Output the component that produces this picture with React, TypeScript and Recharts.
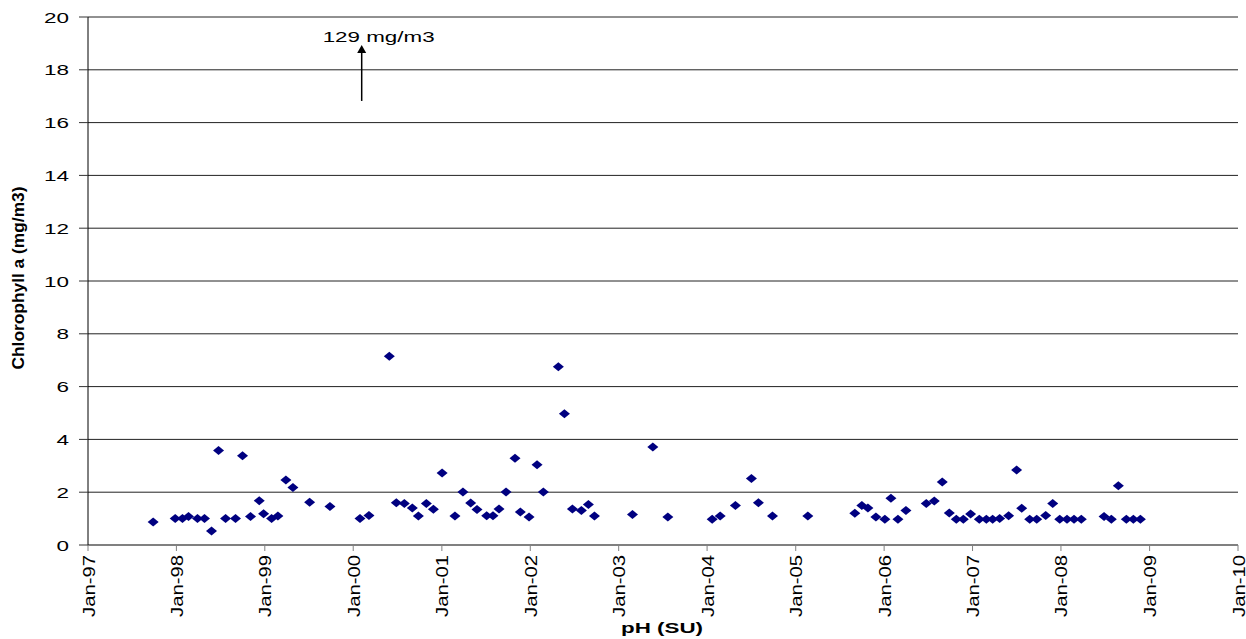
import {
  CartesianGrid,
  Label,
  ReferenceDot,
  ReferenceLine,
  Scatter,
  ScatterChart,
  XAxis,
  YAxis,
} from "recharts";

// 샘플 날짜 / 클로로필 a 농도 (mg/m3)
const sampleDates = [
  "1997-09-27", "1997-12-27", "1998-01-26", "1998-02-20", "1998-03-29", "1998-04-27",
  "1998-05-26", "1998-06-24", "1998-07-23", "1998-09-02", "1998-10-01", "1998-11-03",
  "1998-12-09", "1998-12-27", "1999-01-29", "1999-02-24", "1999-03-29", "1999-04-27",
  "1999-07-05", "1999-09-27", "2000-01-29", "2000-03-06", "2000-05-29", "2000-06-27",
  "2000-07-30", "2000-09-01", "2000-09-26", "2000-10-29", "2000-11-27", "2001-01-02",
  "2001-02-24", "2001-03-29", "2001-04-30", "2001-05-26", "2001-07-05", "2001-07-31",
  "2001-08-25", "2001-09-23", "2001-10-30", "2001-11-21", "2001-12-27", "2002-01-29",
  "2002-02-24", "2002-04-27", "2002-05-22", "2002-06-24", "2002-07-31", "2002-08-29",
  "2002-09-23", "2003-02-27", "2003-05-22", "2003-07-23", "2004-01-22", "2004-02-24",
  "2004-04-27", "2004-07-02", "2004-07-31", "2004-09-27", "2005-02-20", "2005-09-02",
  "2005-10-01", "2005-10-26", "2005-11-28", "2006-01-04", "2006-01-29", "2006-02-27",
  "2006-04-01", "2006-06-24", "2006-07-27", "2006-08-29", "2006-09-27", "2006-10-26",
  "2006-11-24", "2006-12-24", "2007-01-29", "2007-02-27", "2007-03-25", "2007-04-23",
  "2007-05-30", "2007-07-02", "2007-07-23", "2007-08-25", "2007-09-23", "2007-10-30",
  "2007-11-28", "2007-12-27", "2008-01-26", "2008-02-24", "2008-03-25", "2008-06-27",
  "2008-07-27", "2008-08-25", "2008-09-27", "2008-10-26", "2008-11-24",
];

const chlorophyll = [
  0.87, 1.0, 1.0, 1.08, 1.0, 1.0,
  0.53, 3.58, 1.0, 1.0, 3.38, 1.08,
  1.68, 1.18, 1.0, 1.1, 2.46, 2.18,
  1.62, 1.46, 1.0, 1.12, 7.15, 1.6,
  1.57, 1.4, 1.1, 1.57, 1.35, 2.73,
  1.1, 2.01, 1.59, 1.34, 1.11, 1.11,
  1.36, 2.01, 3.29, 1.25, 1.06, 3.04,
  2.01, 6.75, 4.97, 1.36, 1.31, 1.53,
  1.1, 1.16, 3.71, 1.06, 0.98, 1.1,
  1.5, 2.52, 1.6, 1.1, 1.1, 1.2,
  1.5, 1.4, 1.06, 0.98, 1.77, 0.98,
  1.31, 1.57, 1.67, 2.39, 1.21, 0.98,
  0.98, 1.17, 0.98, 0.98, 0.98, 1.0,
  1.11, 2.84, 1.39, 0.98, 0.98, 1.12,
  1.57, 0.98, 0.98, 0.98, 0.98, 1.08,
  0.98, 2.24, 0.98, 0.98, 0.98,
];

const xTickDates = [
  "1997-01-01", "1998-01-01", "1999-01-01", "2000-01-01", "2001-01-01", "2002-01-01",
  "2003-01-01", "2004-01-01", "2005-01-01", "2006-01-01", "2007-01-01", "2008-01-01",
  "2009-01-01", "2010-01-01",
];
const xTickLabels = [
  "Jan-97", "Jan-98", "Jan-99", "Jan-00", "Jan-01", "Jan-02", "Jan-03",
  "Jan-04", "Jan-05", "Jan-06", "Jan-07", "Jan-08", "Jan-09", "Jan-10",
];
const yTicks = [0, 2, 4, 6, 8, 10, 12, 14, 16, 18, 20];

// 범위 밖 값 표시 (129 mg/m3)
const outlierLabel = "129 mg/m3";
const outlierDate = "2000-02-05";
const outlierLabelDate = "2000-04-15";

const toTime = (iso: string) => {
  const [y, m, d] = iso.split("-").map(Number);
  return Date.UTC(y, m - 1, d);
};

const points = sampleDates.map((d, i) => ({ t: toTime(d), v: chlorophyll[i] }));
const xTicks = xTickDates.map(toTime);

const FONT = "'Liberation Sans', Arial, sans-serif";
const NAVY = "#000080";

function Diamond(props: any) {
  const { cx, cy } = props;
  if (cx == null || cy == null) return null;
  return (
    <polygon
      points={`${cx},${cy - 4.5} ${cx + 5.5},${cy} ${cx},${cy + 4.5} ${cx - 5.5},${cy}`}
      fill={NAVY}
    />
  );
}

function XTick(props: any) {
  const { x, y, payload } = props;
  const i = xTicks.indexOf(payload.value);
  return (
    <text
      transform={`translate(${x + 6.5},${y + 2}) rotate(-90)`}
      textAnchor="end"
      fontFamily={FONT}
      fontSize={17}
      fill="#000"
      textLength={62}
      lengthAdjust="spacingAndGlyphs"
    >
      {xTickLabels[i] ?? ""}
    </text>
  );
}

function YTick(props: any) {
  const { y, payload } = props;
  const s = String(payload.value);
  return (
    <text
      x={69}
      y={y + 5.5}
      textAnchor="end"
      fontFamily={FONT}
      fontSize={15}
      fill="#000"
      textLength={s.length * 12.5}
      lengthAdjust="spacingAndGlyphs"
    >
      {s}
    </text>
  );
}

function ArrowHead(props: any) {
  const { cx, cy } = props;
  return <polygon points={`${cx},${cy} ${cx + 4.5},${cy + 8} ${cx - 4.5},${cy + 8}`} fill="#000" />;
}

function OutlierText(props: any) {
  const { cx, cy } = props;
  return (
    <text
      x={cx}
      y={cy}
      textAnchor="middle"
      fontFamily={FONT}
      fontSize={14}
      fill="#000"
      textLength={112}
      lengthAdjust="spacingAndGlyphs"
    >
      {outlierLabel}
    </text>
  );
}

export default function App() {
  return (
    <div style={{ position: "absolute", left: 0, top: 0, width: 1246, height: 639, background: "#fff" }}>
      <ScatterChart
        width={1246}
        height={639}
        margin={{ top: 17, right: 8, bottom: 0, left: 0 }}
      >
        <CartesianGrid vertical={false} stroke="#222" strokeWidth={1} />
        <XAxis
          type="number"
          dataKey="t"
          domain={[xTicks[0], xTicks[xTicks.length - 1]]}
          ticks={xTicks}
          interval={0}
          height={94}
          axisLine={{ stroke: "#808080", strokeWidth: 2 }}
          tickLine={{ stroke: "#808080" }}
          tickSize={6}
          tick={<XTick />}
        >
          <Label
            content={() => (
              <text
                x={662}
                y={633}
                textAnchor="middle"
                fontFamily={FONT}
                fontSize={15}
                fontWeight="bold"
                fill="#000"
                textLength={82}
                lengthAdjust="spacingAndGlyphs"
              >
                pH (SU)
              </text>
            )}
          />
        </XAxis>
        <YAxis
          type="number"
          dataKey="v"
          domain={[0, 20]}
          ticks={yTicks}
          interval={0}
          width={88}
          axisLine={{ stroke: "#000" }}
          tickLine={{ stroke: "#333" }}
          tickSize={9}
          tick={<YTick />}
        >
          <Label
            content={() => (
              <text
                transform="translate(24,278) rotate(-90)"
                textAnchor="middle"
                fontFamily={FONT}
                fontSize={16}
                fontWeight="bold"
                fill="#000"
                textLength={183}
                lengthAdjust="spacingAndGlyphs"
              >
                Chlorophyll a (mg/m3)
              </text>
            )}
          />
        </YAxis>
        <Scatter data={points} shape={<Diamond />} isAnimationActive={false} />
        <ReferenceLine
          segment={[
            { x: toTime(outlierDate), y: 16.82 },
            { x: toTime(outlierDate), y: 18.7 },
          ]}
          stroke="#000"
          strokeWidth={1.5}
        />
        <ReferenceDot x={toTime(outlierDate)} y={18.94} shape={<ArrowHead />} />
        <ReferenceDot x={toTime(outlierLabelDate)} y={19.05} shape={<OutlierText />} />
      </ScatterChart>
    </div>
  );
}
